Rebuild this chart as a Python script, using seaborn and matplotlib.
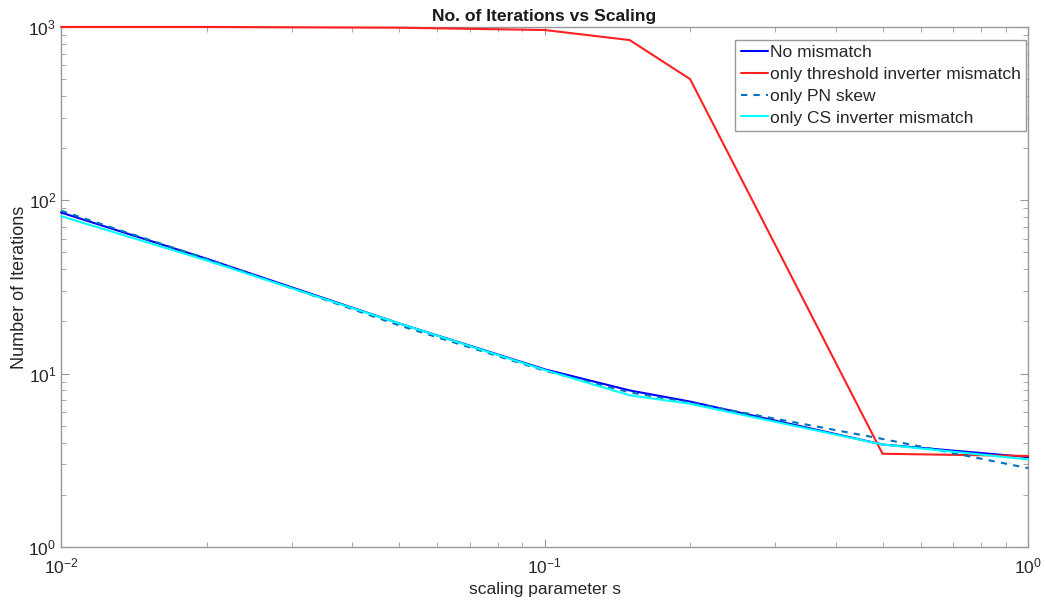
import matplotlib
matplotlib.use('Agg')
import matplotlib.pyplot as plt
import pandas as pd
import seaborn as sns
from matplotlib.ticker import LogLocator, NullFormatter

# scaling parameter s
s_values = [0.01, 0.02, 0.05, 0.1, 0.15, 0.2, 0.5, 1.0]

# number of iterations for each case
no_mismatch = [85, 46, 19.5, 10.6, 8.0, 6.9, 3.9, 3.3]
threshold_mismatch = [1000, 1000, 990, 960, 840, 500, 3.45, 3.35]
pn_skew = [87, 46, 19, 10.4, 7.8, 6.8, 4.2, 2.85]
cs_mismatch = [81, 45, 19.5, 10.5, 7.5, 6.7, 3.9, 3.2]

labels = ['No mismatch', 'only threshold inverter mismatch',
          'only PN skew', 'only CS inverter mismatch']
series = [no_mismatch, threshold_mismatch, pn_skew, cs_mismatch]
colors = ['#0000FF', '#FF2020', '#0072BD', '#00FFFF']
dashes = ['', '', (3, 3), '']


def main():
    sns.set_style('ticks')
    plt.rcParams['font.family'] = ['Liberation Sans', 'DejaVu Sans']
    plt.rcParams['axes.unicode_minus'] = False

    frames = []
    for lab, vals in zip(labels, series):
        frames.append(pd.DataFrame({'s': s_values, 'iters': vals, 'case': lab}))
    df = pd.concat(frames, ignore_index=True)

    fig = plt.figure(figsize=(10.45, 6.04), dpi=100)
    ax = fig.add_axes([0.0584, 0.0944, 0.9254, 0.861])

    sns.lineplot(data=df, x='s', y='iters', hue='case', style='case',
                 hue_order=labels, style_order=labels,
                 palette=dict(zip(labels, colors)),
                 dashes=dict(zip(labels, dashes)),
                 linewidth=1.5, ax=ax)
    # keep the lines above the box (red one runs along the top edge)
    for ln in ax.lines:
        ln.set_zorder(3)
        ln.set_clip_on(False)

    ax.set_xscale('log')
    ax.set_yscale('log')
    ax.set_xlim(1e-2, 1)
    ax.set_ylim(1, 1e3)
    ax.xaxis.set_minor_locator(LogLocator(base=10, subs=range(2, 10)))
    ax.yaxis.set_minor_locator(LogLocator(base=10, subs=range(2, 10)))
    ax.xaxis.set_minor_formatter(NullFormatter())
    ax.yaxis.set_minor_formatter(NullFormatter())

    edge = '#999999'
    for sp in ax.spines.values():
        sp.set_visible(True)
        sp.set_color(edge)
        sp.set_linewidth(1.0)
    ax.tick_params(which='both', direction='in', top=True, right=True,
                   colors=edge, labelcolor='#262626', labelsize=12.5)
    ax.tick_params(which='major', length=6)
    ax.tick_params(which='minor', length=3.5)
    ax.tick_params(axis='x', which='major', pad=7)

    ax.set_xlabel('scaling parameter s', fontsize=12.5, color='#262626')
    ax.set_ylabel('Number of Iterations', fontsize=13, color='#262626',
                  labelpad=0.5)
    ax.set_title('No. of Iterations vs Scaling', fontsize=12.6,
                 fontweight='bold', color='#1a1a1a', pad=4)

    leg = ax.legend(loc='upper right', bbox_to_anchor=(0.998, 0.975),
                    fontsize=12.5, frameon=True,
                    fancybox=False, edgecolor='#999999', framealpha=1,
                    handlelength=1.6, handletextpad=0.1, borderpad=0.3,
                    labelspacing=0.38, borderaxespad=0)
    leg.get_frame().set_linewidth(1.0)
    leg.set_zorder(5)

    fig.savefig('out.png', dpi=100)


if __name__ == '__main__':
    main()
